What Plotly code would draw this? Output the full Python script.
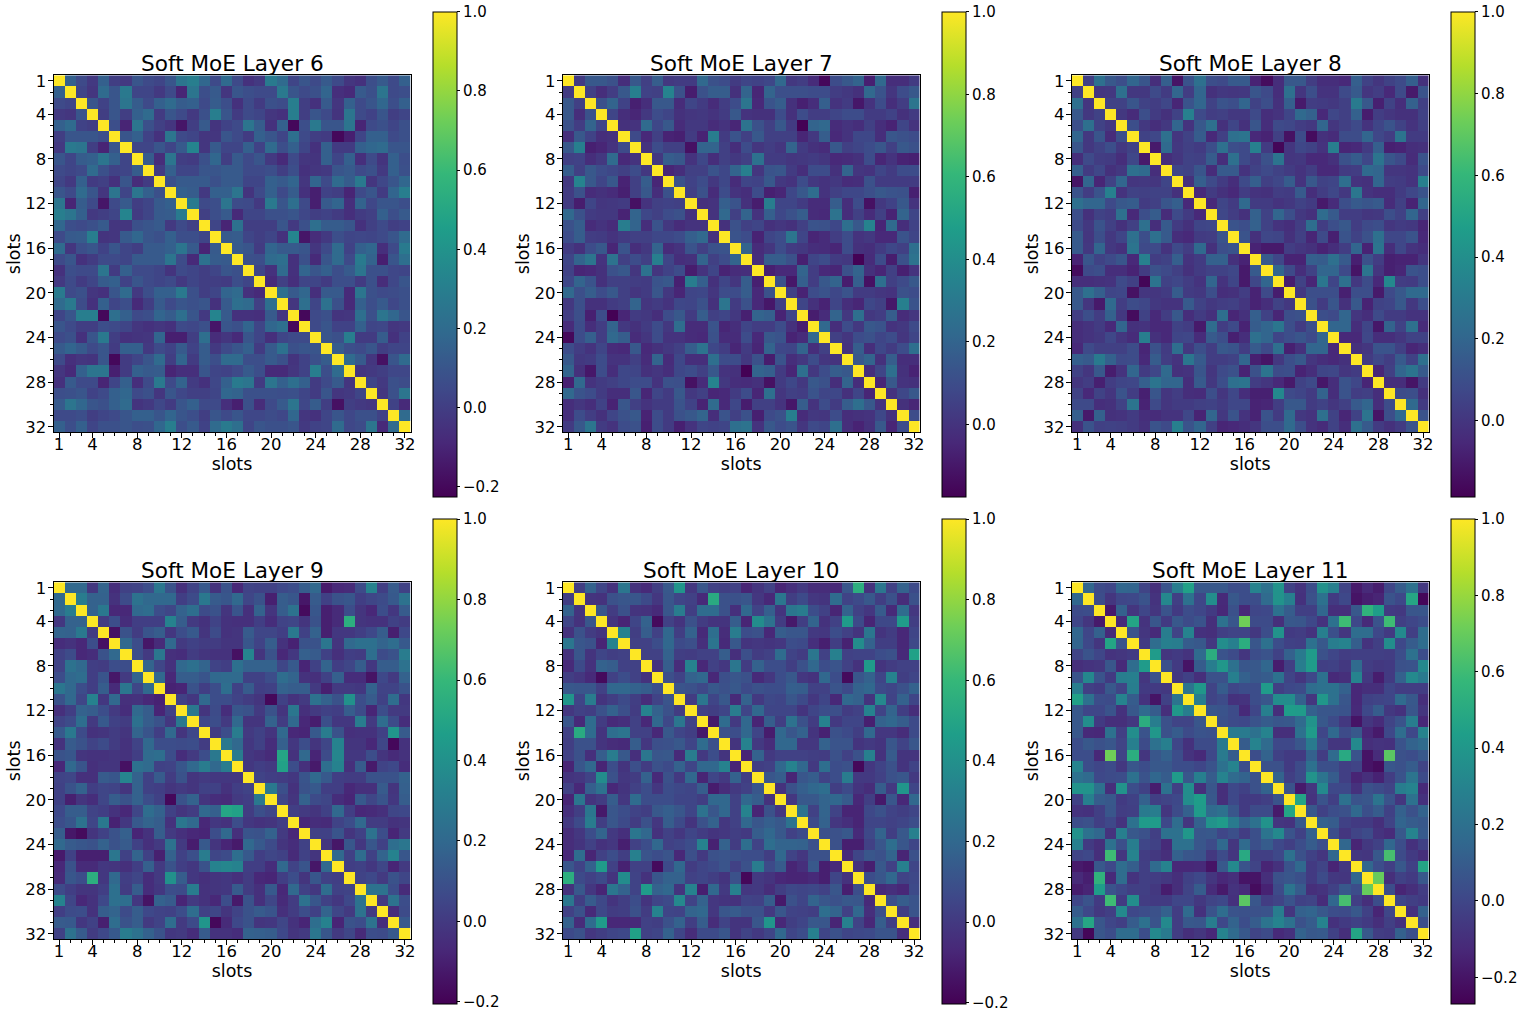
import numpy as np
import plotly.graph_objects as go

# upper triangles (row r holds columns r+1..32), values in hundredths
layer6 = [
[15,5,-2,15,0,-2,10,5,3,10,25,30,18,5,20,5,-5,-2,28,20,3,10,5,12,5,-3,-5,7,12,5,15],
[3,-3,20,10,27,3,3,-2,5,-10,25,7,12,-3,10,7,5,5,27,10,5,8,17,-6,-8,12,8,25,5,7],
[10,2,10,25,13,5,15,20,13,15,5,13,7,-5,5,-1,8,6,30,0,-5,12,-3,15,5,10,18,7,15],
[0,10,0,15,20,-1,10,5,-2,8,30,10,-1,5,3,-3,-5,30,0,10,5,-4,25,5,2,10,0,3],
[7,-10,25,8,1,-3,-15,0,12,-4,2,5,25,13,-5,15,-20,7,27,10,10,25,-10,5,8,3,8],
[10,15,2,-5,25,5,3,-3,-3,10,5,-1,15,10,3,22,5,0,-1,-20,-12,3,15,15,5,8],
[3,3,10,3,12,33,-3,12,3,3,15,2,20,7,15,3,-5,15,-1,-1,15,18,20,10,10],
[13,-7,25,0,-1,8,18,0,12,5,10,-2,-8,5,-3,-4,15,3,15,-6,5,-4,15,7],
[-1,15,3,3,10,10,12,12,5,5,7,0,7,-5,-3,-2,10,12,5,8,-2,15,8],
[8,12,12,12,8,12,12,3,3,15,12,17,-3,17,5,20,13,27,-3,4,10,18],
[15,13,-2,15,15,25,-4,5,15,5,13,-5,-12,2,0,-10,5,10,-1,17,30],
[28,5,7,25,6,5,-2,27,10,22,5,-12,12,17,-6,16,4,10,10,7],
[1,7,12,-8,3,3,8,8,10,4,0,2,-1,-6,-1,1,15,7,12],
[3,-10,23,0,0,0,10,-2,8,22,13,13,10,-5,1,5,0,2],
[12,13,3,0,3,-5,33,-15,-7,-2,7,3,4,3,5,10,20],
[12,10,-1,17,12,12,10,-3,5,20,2,15,18,-6,5,28],
[8,7,20,22,-5,8,-8,10,20,5,28,16,-12,10,22],
[3,-5,20,-5,17,10,15,7,12,25,8,8,4,3],
[-8,1,-6,3,3,-1,7,7,-1,8,-7,4,10],
[22,12,18,-6,12,12,-8,25,8,5,6,8],
[-3,22,3,23,8,-8,15,7,12,4,8],
[-20,5,8,-4,-3,22,8,25,18,10],
[5,10,2,2,15,3,4,-3,-2],
[10,8,30,-1,-1,13,-5,2],
[13,7,5,10,0,3,3],
[20,12,-3,-17,10,20],
[-3,-2,0,4,4],
[3,-2,8,6],
[-3,8,25],
[2,-8],
[20],
]
layer7 = [
[3,15,15,12,-2,15,5,17,2,3,3,22,12,10,3,7,6,8,22,2,4,-3,-15,10,15,20,-7,22,-2,-2,3],
[5,-2,4,15,33,6,5,35,12,-8,12,17,17,-1,20,-5,20,11,11,11,10,10,4,2,-1,22,13,1,10,15],
[12,20,6,-7,-2,15,15,-3,7,3,-3,4,10,28,-4,13,17,-1,-7,-2,18,0,3,-10,0,10,-2,4,28],
[7,-2,-5,2,10,7,-1,1,2,0,3,15,0,-1,-1,10,-1,10,4,4,7,10,10,3,3,6,-1,3],
[-1,0,23,8,15,-3,2,2,-3,0,-5,27,12,5,15,3,-17,20,22,-3,0,-2,5,-2,-6,7,0],
[9,-4,5,-6,-7,3,-6,32,3,13,5,15,5,5,5,-5,2,17,-4,0,8,8,-2,14,12,10],
[0,10,5,5,-12,20,20,5,-2,10,1,4,1,20,3,-1,-3,15,5,7,10,14,5,15,12],
[2,17,15,0,8,-2,5,2,5,26,3,3,1,2,3,1,-4,-3,-1,10,-5,0,-6,-7],
[-5,-2,5,5,13,8,20,33,1,13,14,3,-2,10,10,-1,20,1,0,7,3,10,10],
[12,6,10,2,8,-3,7,6,15,2,0,10,2,0,2,-3,-2,12,3,3,3,3],
[5,12,-3,10,0,-2,10,-7,-5,8,15,24,0,5,8,8,11,15,13,12,-7],
[-1,0,18,13,-1,-8,32,7,7,3,-3,-3,17,-2,10,-12,2,6,15,0],
[0,22,5,20,0,18,8,12,17,-3,-4,27,-2,5,-3,5,-6,20,7],
[-1,12,5,7,-1,1,-1,5,13,12,8,25,15,35,-5,23,-2,6],
[13,10,-6,7,10,28,7,-5,-3,4,10,0,2,-4,-4,13,7],
[20,-3,1,10,3,2,-2,-3,-5,10,-1,-2,3,8,5,25],
[-2,17,17,12,-7,7,10,3,2,-17,-3,10,-8,12,27],
[-7,-4,-4,20,4,-4,-5,12,20,-1,-5,5,-7,0],
[12,-10,18,4,15,20,-8,18,-12,25,5,9,15],
[5,-6,10,13,8,13,3,3,1,0,12,10],
[7,-1,-6,7,-2,-5,8,5,-10,33,13],
[-8,-3,20,2,25,2,4,17,-3,1],
[22,-2,10,2,15,13,0,2,9],
[5,1,10,12,7,10,1,7],
[0,17,-2,8,3,10,25],
[15,20,-1,17,-2,-2],
[-2,7,25,-1,-6],
[-5,15,0,-1],
[0,8,15],
[-1,-5],
[10],
]
layer8 = [
[4,25,14,10,20,13,-3,17,-12,12,25,10,8,15,15,-7,-15,-3,14,14,3,-3,-3,-5,17,5,0,5,8,17,-2],
[0,1,25,1,1,8,2,20,3,20,-2,1,0,1,13,8,-3,25,0,10,-1,-1,8,15,0,3,-5,8,-10,12],
[5,5,13,5,3,7,-6,12,20,5,12,10,20,5,10,-2,17,-10,3,2,1,4,30,14,-8,5,-3,18,4],
[1,-4,10,2,-2,5,33,8,3,4,1,1,8,-3,-1,6,22,18,-5,7,4,18,-9,3,0,-2,-2,5],
[10,1,-3,1,20,-1,14,25,-2,6,-2,13,-3,8,7,3,1,20,0,4,8,-1,6,12,5,-1,4],
[5,7,25,0,5,16,-5,4,25,27,-5,-7,4,-13,9,-15,-2,-4,9,9,20,7,3,27,2,2],
[-10,22,1,4,2,10,25,10,8,33,2,-17,0,7,5,-1,32,-6,-5,2,17,-8,-7,-3,-2],
[-3,0,5,4,16,-3,25,8,3,11,27,0,1,-5,-5,-2,11,16,7,27,13,8,-4,12],
[6,5,13,-4,15,15,-1,5,8,5,2,-1,3,-5,-5,2,3,22,20,0,0,-1,8],
[-2,17,8,2,-3,8,17,4,7,16,-1,14,5,6,24,-1,-2,20,3,2,-1,33],
[-5,2,-2,-5,3,-1,-2,3,2,15,-3,3,7,1,28,-1,-3,-3,2,7,12],
[-5,6,2,22,2,2,-1,1,5,2,-10,-4,10,15,13,15,-4,4,-7,20],
[7,3,-2,18,5,20,10,1,-2,23,15,3,3,0,1,10,5,20,4],
[12,10,18,5,-1,-3,3,24,3,10,14,3,8,10,0,2,1,-6],
[12,-2,7,6,-2,4,-6,8,-8,12,5,11,25,7,7,12,-5],
[-7,-10,-10,3,0,-2,-7,-3,3,20,-7,27,-3,7,-1,-3],
[15,7,-7,-7,17,16,25,15,-8,11,3,-8,-7,-7,0],
[20,8,-3,5,20,20,8,-12,27,0,-8,-6,12,10],
[-9,5,-6,28,6,25,1,9,-5,37,3,2,10],
[1,10,10,10,-8,10,10,-10,8,14,22,22],
[11,2,13,-2,14,-7,5,6,14,1,10],
[10,8,20,0,-3,8,2,2,-1,-1],
[20,20,-3,6,-11,19,5,25,-4],
[-5,-5,7,-3,-3,0,5,5],
[-2,0,12,12,4,-6,-3],
[2,7,3,15,5,25],
[-6,4,20,27,15],
[-3,-3,-12,2],
[9,10,-2],
[22,2],
[12],
]
layer9 = [
[20,20,-1,18,-5,3,4,8,27,10,-4,4,13,-3,10,-7,4,3,3,6,8,15,20,-12,-7,-6,7,33,2,14,3],
[30,17,17,-3,7,25,20,20,20,2,7,28,14,12,20,5,10,-10,15,12,-13,14,3,10,12,2,5,7,13,25],
[17,28,-7,-7,20,22,8,5,17,23,7,10,-2,11,-4,17,-2,15,25,-17,12,-10,-6,8,-2,-7,8,-1,14],
[1,8,-5,2,2,2,33,15,0,-3,4,-3,-4,-4,2,-5,4,5,-2,10,-10,-6,55,-2,-3,-3,3,1],
[-15,10,1,11,15,-1,8,13,-2,7,-3,-2,14,5,5,2,28,3,17,-10,-1,-1,2,6,15,-10,6],
[20,8,-13,-6,20,0,3,1,1,-2,-2,12,4,15,-3,-9,10,10,27,-2,20,24,24,18,22,13],
[8,0,27,-4,-5,1,-2,-3,-3,-15,34,-2,10,-7,-1,16,14,3,-4,2,1,23,7,10,30],
[18,5,-3,20,24,18,4,2,24,17,17,17,5,13,-8,3,18,2,5,15,-1,15,15,25],
[20,-7,15,15,11,20,21,21,3,3,8,22,18,-3,-4,3,16,-5,-5,-14,6,0,17],
[-9,-8,10,2,8,23,3,14,2,3,17,15,15,0,-10,0,0,-1,17,4,4,10],
[3,-1,20,8,8,4,1,-2,-18,3,-3,0,25,17,10,40,8,14,3,22,-1],
[28,-2,7,-5,12,10,0,10,-2,27,-4,0,3,2,15,7,-8,8,0,0],
[6,8,0,20,-2,-2,17,1,20,-7,-11,9,-1,-1,30,0,22,7,-5],
[1,8,30,0,3,-2,20,-7,-8,13,30,10,-4,-3,-3,3,42,14],
[28,20,-1,3,-5,16,-1,8,-2,5,33,-2,-2,-7,5,-18,-3],
[30,-1,-3,-6,50,-3,20,-8,7,35,-1,-1,8,-2,-6,-3],
[-1,2,0,48,8,-4,-12,23,33,-4,14,-12,4,6,-5],
[4,2,1,-1,11,20,13,2,1,1,10,10,10,17],
[28,9,-3,10,13,2,2,-7,-4,-4,14,-2,16],
[5,-2,17,7,5,-5,-8,13,5,11,-1,15],
[2,0,-2,3,20,2,-7,-6,-4,5,6],
[-7,-5,-6,4,8,20,1,1,-3,-2],
[3,3,11,-2,3,25,8,-8,0],
[-2,-13,12,-1,12,3,23,27],
[20,3,22,3,18,33,12],
[2,3,-1,5,-8,0],
[4,6,0,10,5],
[25,25,8,-6],
[0,25,8],
[-5,7],
[13],
]
layer10 = [
[2,17,5,-3,27,-3,-6,2,13,42,-1,12,3,2,3,-8,-2,3,-8,-4,0,-5,-5,-7,12,55,-3,27,3,17,7],
[-2,-3,10,12,12,7,-1,12,5,3,-6,53,10,10,12,-1,-7,27,2,7,-1,-2,22,4,7,13,2,10,-5,10],
[12,1,10,-2,-3,-6,12,30,2,22,22,10,-4,20,4,16,-2,27,30,8,3,-8,17,3,-1,14,-6,22,-1],
[-2,-8,5,17,-17,3,-2,10,1,-2,-2,15,-8,38,25,1,-12,2,18,-3,3,45,7,-8,6,6,45,2],
[33,2,15,3,20,2,17,-6,23,-5,30,8,10,-7,15,12,12,0,-1,8,3,-2,27,-2,1,-7,5],
[3,3,8,20,7,9,-4,26,-6,13,-2,-1,-2,-1,8,7,-4,-10,2,-9,38,17,2,2,-7,6],
[3,3,17,2,1,3,3,15,-4,9,1,3,22,4,1,27,3,32,3,4,4,8,10,-6,48],
[-3,15,-5,33,-7,3,-1,27,1,17,8,8,2,10,20,8,11,3,-3,45,-2,1,3,3],
[9,4,17,20,-7,9,12,10,-6,-1,8,13,-1,-3,20,8,-17,12,17,5,33,2,5],
[11,10,6,13,10,13,7,10,8,8,16,15,3,3,11,7,17,20,7,5,10,17],
[1,27,5,13,-6,17,0,6,5,12,7,-1,5,-7,20,17,-2,36,4,17,5],
[3,2,5,30,5,20,5,5,5,-2,5,8,9,1,3,33,4,18,2,-5],
[-12,22,0,20,-8,15,2,25,10,1,33,0,5,5,-10,17,20,15,7],
[10,8,20,5,-11,20,12,17,-2,-9,10,7,2,20,-1,-1,-5,7],
[-2,33,0,-5,20,20,-1,-1,17,11,11,-2,0,-2,12,4,12],
[-8,17,0,3,3,3,2,1,10,3,10,32,-3,14,-2,-2],
[2,3,20,33,20,0,23,8,10,-18,-1,4,10,-2,4],
[12,15,-8,12,15,4,8,30,0,0,3,10,12,0],
[-3,10,16,20,23,2,7,-2,-5,15,0,42,5],
[-1,13,13,18,20,14,-7,2,-12,12,-7,20],
[25,3,18,4,-8,-8,6,10,4,2,5],
[7,17,-1,-4,-8,5,5,3,5,8],
[10,10,13,-6,6,18,2,13,32],
[10,-10,-10,3,12,23,12,5],
[-6,5,12,10,18,-8,10],
[-3,-10,13,3,32,5],
[8,12,20,4,6],
[-6,-4,-7,7],
[9,15,11],
[2,11],
[-4],
]
layer11 = [
[15,2,0,15,14,-1,-10,6,27,45,8,8,8,3,3,30,20,38,-2,-8,3,37,28,-1,-18,-12,-17,0,10,20,-6],
[3,-7,0,1,6,-8,32,-3,20,0,35,-12,8,3,3,17,38,28,-9,5,20,-5,1,-20,-16,-14,6,1,48,-25],
[-18,12,-7,0,-7,6,-5,3,0,-5,-13,5,-13,0,1,20,10,-3,-3,15,-10,-10,8,55,43,-5,-6,7,7],
[-12,47,-8,7,-5,8,2,6,-10,20,7,72,2,2,-10,8,7,1,-8,20,60,1,-12,6,60,-3,0,3],
[6,-7,-12,27,-1,30,-9,-10,-3,-1,-1,-6,3,38,-5,-4,-8,28,4,-7,18,18,1,-5,33,-3,18],
[-5,18,28,27,10,8,-6,35,28,52,7,20,3,-2,-3,20,8,27,30,11,-8,-3,35,1,10,18],
[42,-7,-5,-8,17,52,6,2,-7,3,6,-2,12,25,42,5,0,-4,-3,-3,-3,-4,3,20,3],
[5,-5,-20,10,27,40,20,7,8,15,-17,-3,27,42,-3,-2,-6,17,-4,-6,-5,5,6,33],
[-6,-2,-10,5,5,28,12,8,10,20,-1,-7,1,20,-12,-10,30,-6,-17,-5,12,33,25],
[22,40,-1,10,0,3,3,42,-3,1,2,18,20,20,12,-13,-10,-10,0,-4,-4,-4],
[27,-1,2,-9,-8,3,7,35,35,12,-7,40,20,7,-13,-2,-1,0,17,8,-10],
[7,6,2,-12,0,28,-10,43,42,12,7,7,6,-12,1,10,-6,-9,7,-7],
[5,2,1,6,10,7,8,17,38,8,2,-6,-20,-7,-11,-1,6,27,-13],
[25,25,20,30,-10,-10,20,42,0,16,2,8,-13,-18,1,18,1,30],
[10,30,17,1,1,7,25,4,-7,-7,33,-10,-8,-9,6,13,17],
[3,13,-2,-5,-5,12,-4,17,50,6,-20,-11,67,5,3,8],
[5,5,-5,2,20,4,4,-3,-1,-20,-23,7,5,10,-1],
[13,-3,2,38,22,10,-3,-14,-10,-15,-4,6,22,2],
[6,-18,-7,33,1,1,-9,5,2,-1,27,30,-12],
[47,-8,6,-3,20,6,7,22,6,-7,20,-9],
[8,-2,3,5,16,4,10,-2,12,5,13],
[12,10,-2,-5,-5,-10,-1,14,10,8],
[3,-7,-1,2,-8,-11,8,30,9],
[15,-14,-6,-2,15,3,-9,-2],
[-6,-7,8,62,2,-5,-10],
[15,3,-3,8,-2,47],
[70,-10,-2,-5,8],
[3,-14,-10,-4],
[0,-3,-5],
[-9,12],
[4],
]

layer_names = ["Soft MoE Layer 6", "Soft MoE Layer 7", "Soft MoE Layer 8",
               "Soft MoE Layer 9", "Soft MoE Layer 10", "Soft MoE Layer 11"]
layer_rows = [layer6, layer7, layer8, layer9, layer10, layer11]
zmins = [-0.225, -0.175, -0.186, -0.205, -0.203, -0.27]
cbar_ticks = [
    [-0.2, 0, 0.2, 0.4, 0.6, 0.8, 1.0],
    [0, 0.2, 0.4, 0.6, 0.8, 1.0],
    [0, 0.2, 0.4, 0.6, 0.8, 1.0],
    [-0.2, 0, 0.2, 0.4, 0.6, 0.8, 1.0],
    [-0.2, 0, 0.2, 0.4, 0.6, 0.8, 1.0],
    [-0.2, 0, 0.2, 0.4, 0.6, 0.8, 1.0],
]
slots = list(range(1, 33))
tick_slots = [1, 4, 8, 12, 16, 20, 24, 28, 32]

W, H = 1522, 1017
panel_left = [53.5, 562.7, 1071.7]
panel_top = [75.3, 582.3]
panel_size = 357
cbar_left = [432.7, 941.7, 1450.7]
cbar_top = [11.7, 519]
cbar_height = 484.5
FONT = "DejaVu Sans"


def to_matrix(rows):
    m = np.eye(32)
    for r, vals in enumerate(rows):
        assert len(vals) == 31 - r, (r, len(vals))
        for k, v in enumerate(vals):
            m[r, r + 1 + k] = m[r + 1 + k, r] = v / 100
    return m


fig = go.Figure()
for i, name in enumerate(layer_names):
    row, col = i // 3, i % 3
    suffix = "" if i == 0 else str(i + 1)
    left = panel_left[col]
    top = panel_top[row]
    fig.add_trace(go.Heatmap(
        z=to_matrix(layer_rows[i]), x=slots, y=slots,
        xaxis="x" + suffix, yaxis="y" + suffix,
        colorscale="Viridis", zmin=zmins[i], zmax=1,
        colorbar=dict(
            x=cbar_left[col] / W, xanchor="left", xpad=0,
            y=1 - cbar_top[row] / H, yanchor="top", ypad=0,
            len=cbar_height / H, lenmode="fraction", thickness=24,
            outlinecolor="#000", outlinewidth=1,
            tickmode="array", tickvals=cbar_ticks[i],
            ticktext=[f"{t:.1f}".replace("-", "\u2212") for t in cbar_ticks[i]],
            ticks="outside", ticklen=3, tickcolor="#000",
            tickfont=dict(family=FONT, size=15, color="#000"),
        ),
    ))
    common = dict(
        tickmode="array", tickvals=tick_slots, ticks="outside", ticklen=5,
        tickcolor="#000", tickfont=dict(family=FONT, size=16.5, color="#000"),
        showline=True, linecolor="#000", linewidth=1, mirror=True,
        showgrid=False, zeroline=False,
        minor=dict(tickvals=slots, ticks="outside", ticklen=3, tickcolor="#000", showgrid=False),
    )
    fig.update_layout({
        "xaxis" + suffix: dict(
            common, domain=[left / W, (left + panel_size) / W], range=[0.5, 32.5],
            anchor="y" + suffix, ticklabelstandoff=-8,
            title=dict(text="slots", standoff=4, font=dict(family=FONT, size=17.5, color="#000")),
        ),
        "yaxis" + suffix: dict(
            common, domain=[1 - (top + panel_size) / H, 1 - top / H], range=[32.5, 0.5],
            anchor="x" + suffix, ticklabelstandoff=-2,
            title=dict(text="slots", standoff=0, font=dict(family=FONT, size=17.5, color="#000")),
        ),
    })
    fig.add_annotation(
        text=name, x=(left + panel_size / 2) / W, y=1 - (top + 3) / H,
        xref="paper", yref="paper", xanchor="center", yanchor="bottom",
        showarrow=False, font=dict(family=FONT, size=21.6, color="#000"),
    )

fig.update_layout(
    width=W, height=H, margin=dict(l=0, r=0, t=0, b=0, autoexpand=False),
    paper_bgcolor="#fff", plot_bgcolor="#fff",
)
fig.write_html("out.html", post_script="document.body.style.margin='0';",
               config={"displayModeBar": False})
